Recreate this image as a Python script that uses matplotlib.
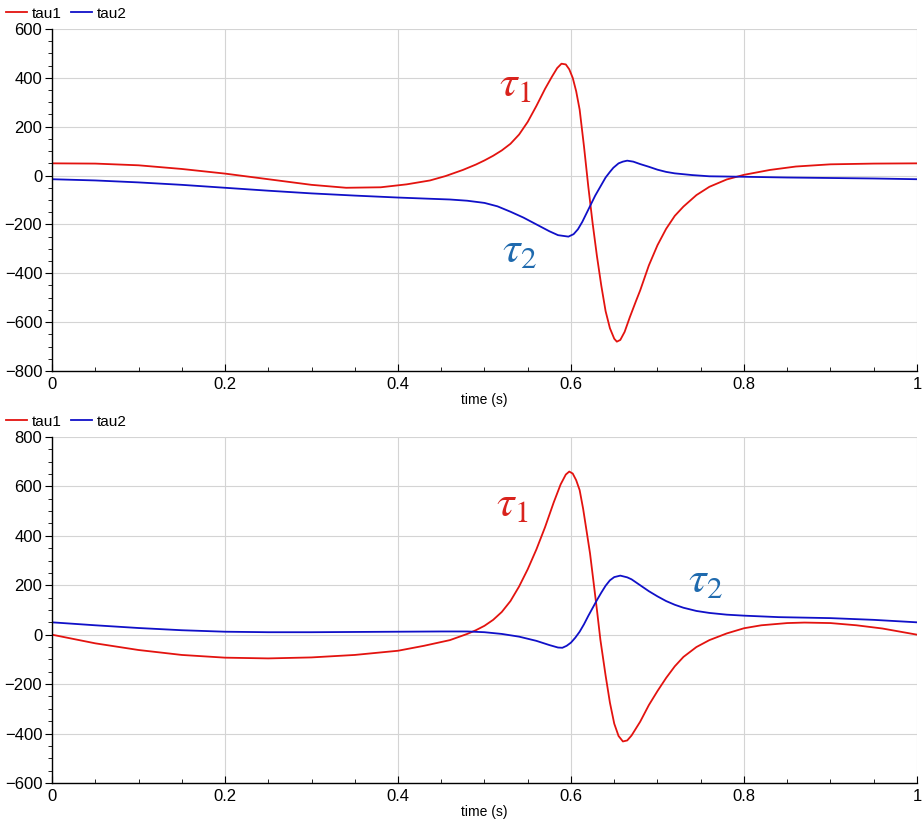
import numpy as np
import matplotlib
matplotlib.use("Agg")
import matplotlib.pyplot as plt
from matplotlib.ticker import MultipleLocator

plt.rcParams["font.family"] = ["Liberation Sans", "DejaVu Sans"]
plt.rcParams["mathtext.fontset"] = "stix"

# ---- top panel data ----
t_top1 = [0, 0.05, 0.1, 0.15, 0.2, 0.25, 0.3, 0.34, 0.38, 0.41, 0.437, 0.455, 0.475,
          0.49, 0.5, 0.51, 0.52, 0.53, 0.54, 0.55, 0.56, 0.57, 0.578, 0.584, 0.589,
          0.594, 0.598, 0.602, 0.606, 0.61, 0.615, 0.62, 0.625, 0.63, 0.635, 0.64,
          0.645, 0.65, 0.653, 0.657, 0.662, 0.668, 0.675, 0.68, 0.69, 0.7, 0.71, 0.72,
          0.73, 0.745, 0.76, 0.78, 0.8, 0.83, 0.86, 0.9, 0.95, 1.0]
tau1_top = [50, 49, 42, 27, 8, -15, -38, -50, -48, -36, -20, -2, 23,
            45, 62, 81, 103, 130, 168, 220, 285, 355, 405, 440, 458,
            455, 435, 400, 345, 270, 120, -45, -195, -330, -450, -555,
            -625, -668, -680, -673, -640, -580, -515, -470, -368, -285, -218, -165,
            -127, -80, -46, -16, 3, 23, 37, 46, 49, 50]

t_top2 = [0, 0.05, 0.1, 0.15, 0.2, 0.25, 0.3, 0.35, 0.4, 0.437, 0.46, 0.48, 0.5,
          0.515, 0.53, 0.545, 0.56, 0.575, 0.585, 0.597, 0.603, 0.608, 0.613, 0.618,
          0.623, 0.628, 0.634, 0.64, 0.645, 0.649, 0.655, 0.66, 0.665, 0.672, 0.68,
          0.69, 0.7, 0.71, 0.72, 0.74, 0.76, 0.8, 0.85, 0.9, 0.95, 1.0]
tau2_top = [-15, -20, -28, -38, -50, -62, -73, -82, -90, -95, -98, -103, -112,
            -126, -148, -172, -200, -228, -244, -250, -240, -220, -190, -154,
            -118, -82, -45, -8, 15, 32, 50, 57, 61, 57, 47,
            36, 24, 15, 9, 2, -3, -5, -8, -10, -12, -15]

# ---- bottom panel data ----
t_bot1 = [0, 0.05, 0.1, 0.15, 0.2, 0.25, 0.3, 0.35, 0.4, 0.43, 0.46, 0.48, 0.49, 0.5,
          0.51, 0.52, 0.53, 0.54, 0.55, 0.56, 0.57, 0.58, 0.588, 0.594, 0.598, 0.602,
          0.606, 0.61, 0.614, 0.618, 0.622, 0.626, 0.63, 0.634, 0.64, 0.645, 0.65,
          0.655, 0.66, 0.665, 0.67, 0.68, 0.69, 0.7, 0.71, 0.72, 0.73, 0.745, 0.76,
          0.78, 0.8, 0.82, 0.85, 0.87, 0.9, 0.93, 0.96, 1.0]
tau1_bot = [0, -35, -62, -82, -93, -96, -92, -82, -65, -45, -22, 3, 18, 36,
            60, 92, 136, 195, 265, 345, 435, 535, 608, 648, 660, 652,
            625, 585, 510, 420, 329, 215, 100, -21, -165, -275, -360,
            -410, -432, -428, -408, -352, -285, -228, -175, -128, -90, -50, -22,
            5, 26, 38, 47, 49, 47, 38, 25, 0]

t_bot2 = [0, 0.05, 0.1, 0.15, 0.2, 0.25, 0.3, 0.35, 0.4, 0.45, 0.48, 0.5, 0.52, 0.54,
          0.56, 0.575, 0.585, 0.59, 0.595, 0.6, 0.605, 0.61, 0.615, 0.62, 0.625, 0.63,
          0.635, 0.64, 0.645, 0.65, 0.657, 0.665, 0.67, 0.68, 0.69, 0.7, 0.71, 0.72,
          0.73, 0.745, 0.76, 0.78, 0.8, 0.84, 0.9, 0.95, 1.0]
tau2_bot = [50, 38, 27, 18, 12, 10, 10, 11, 12, 13, 13, 10, 3, -8,
            -25, -42, -52, -53, -45, -32, -12, 12, 42, 76, 108, 140,
            170, 198, 220, 233, 239, 232, 224, 200, 176, 155, 136, 121,
            109, 96, 88, 81, 77, 71, 67, 60, 50]

xticks = [0, 0.2, 0.4, 0.6, 0.8, 1]
xticklabels = ["0", "0.2", "0.4", "0.6", "0.8", "1"]

red = "#e3130f"
blue = "#1010c8"
ann_red = "#d9231d"
ann_blue = "#1f6aae"


def style_axes(ax, ylim, ystep):
    ax.set_xlim(0, 1)
    ax.set_ylim(*ylim)
    ax.set_xticks(xticks)
    ax.set_xticklabels(xticklabels)
    ax.set_yticks(np.arange(ylim[0], ylim[1] + 1, ystep))
    ax.xaxis.set_minor_locator(MultipleLocator(0.05))
    ax.yaxis.set_minor_locator(MultipleLocator(50))
    ax.spines["top"].set_visible(False)
    ax.spines["right"].set_visible(False)
    ax.spines["left"].set_linewidth(1.0)
    ax.spines["bottom"].set_linewidth(1.0)
    ax.grid(True, which="major", color="#d4d4d4", linewidth=0.8)
    ax.set_axisbelow(True)
    ax.tick_params(axis="x", which="major", direction="in", length=5, labelsize=12, pad=4)
    ax.tick_params(axis="x", which="minor", direction="in", length=3)
    ax.tick_params(axis="y", which="major", direction="out", length=5, labelsize=12, pad=2)
    ax.tick_params(axis="y", which="minor", direction="out", length=3)
    ax.set_xlabel("time (s)", fontsize=10, labelpad=1)
    ax.legend(loc="lower left", bbox_to_anchor=(-0.057, 1.015), ncol=2, frameon=False,
              handlelength=1.4, handletextpad=0.3, columnspacing=0.6,
              borderaxespad=0.1, borderpad=0.1, fontsize=11)


fig = plt.figure(figsize=(9.24, 8.24), dpi=100)
ax1 = fig.add_axes([0.0563, 0.5498, 0.9361, 0.4150])
ax2 = fig.add_axes([0.0563, 0.0498, 0.9361, 0.4199])

ax1.plot(t_top1, tau1_top, color=red, linewidth=1.3, label="tau1")
ax1.plot(t_top2, tau2_top, color=blue, linewidth=1.3, label="tau2")
style_axes(ax1, (-800, 600), 200)
ax1.text(0.535, 371, r"$\tau_1$", color=ann_red, fontsize=32, ha="center", va="center")
ax1.text(0.541, -305, r"$\tau_2$", color=ann_blue, fontsize=32, ha="center", va="center")

ax2.plot(t_bot1, tau1_bot, color=red, linewidth=1.3, label="tau1")
ax2.plot(t_bot2, tau2_bot, color=blue, linewidth=1.3, label="tau2")
style_axes(ax2, (-600, 800), 200)
ax2.text(0.532, 525, r"$\tau_1$", color=ann_red, fontsize=32, ha="center", va="center")
ax2.text(0.755, 221, r"$\tau_2$", color=ann_blue, fontsize=32, ha="center", va="center")

fig.savefig("out.png", dpi=100)
plt.close(fig)
